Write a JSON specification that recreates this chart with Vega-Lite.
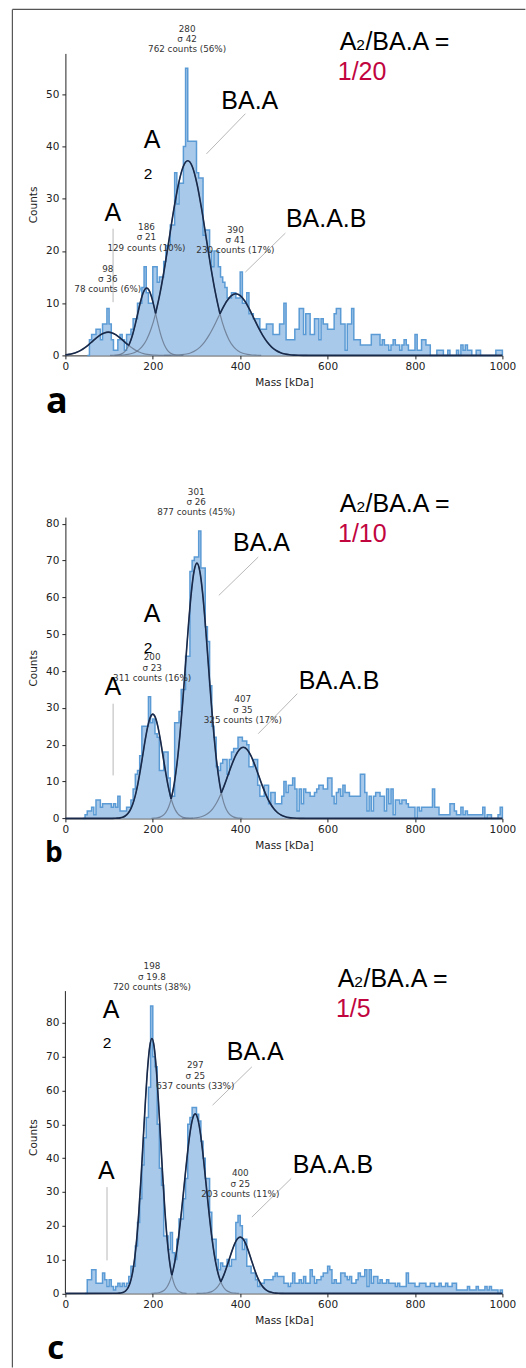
{
"$schema": "https://vega.github.io/schema/vega-lite/v6.json",
"padding": {"left": 11.4, "top": 8.4, "right": 0, "bottom": 0},
"background": "white",
"config": {
 "view": {"stroke": null},
 "axis": {"grid": false, "domainColor": "#222", "tickColor": "#222", "tickSize": 3.5, "domainWidth": 1, "tickWidth": 1, "labelFont": "DejaVu Sans", "labelFontSize": 10.5, "labelColor": "#222", "labelPadding": 3, "titleFont": "DejaVu Sans", "titleFontSize": 10.5, "titleFontWeight": "normal", "titleColor": "#222", "labelFlush": false, "labelOverlap": false, "titlePadding": 5},
 "axisY": {"titlePadding": 7}
},
"datasets": {
 "hist": [
  {"p":"a","m":50,"y":0},{"p":"a","m":55,"y":3},{"p":"a","m":60,"y":4},{"p":"a","m":65,"y":4},{"p":"a","m":70,"y":5},{"p":"a","m":75,"y":5},{"p":"a","m":80,"y":3},{"p":"a","m":85,"y":6},{"p":"a","m":90,"y":6},{"p":"a","m":95,"y":9},{"p":"a","m":100,"y":6},{"p":"a","m":105,"y":3},{"p":"a","m":110,"y":1},{"p":"a","m":115,"y":1},{"p":"a","m":120,"y":3},{"p":"a","m":125,"y":4},{"p":"a","m":130,"y":3},{"p":"a","m":135,"y":1},{"p":"a","m":140,"y":4},{"p":"a","m":145,"y":4},{"p":"a","m":150,"y":5},{"p":"a","m":155,"y":7},{"p":"a","m":160,"y":7},{"p":"a","m":165,"y":10},{"p":"a","m":170,"y":10},{"p":"a","m":175,"y":13},{"p":"a","m":180,"y":17},{"p":"a","m":185,"y":12},{"p":"a","m":190,"y":10},{"p":"a","m":195,"y":10},{"p":"a","m":200,"y":17},{"p":"a","m":205,"y":17},{"p":"a","m":210,"y":14},{"p":"a","m":215,"y":15},{"p":"a","m":220,"y":15},{"p":"a","m":225,"y":18},{"p":"a","m":230,"y":21},{"p":"a","m":235,"y":21},{"p":"a","m":240,"y":25},{"p":"a","m":245,"y":25},{"p":"a","m":250,"y":35},{"p":"a","m":255,"y":29},{"p":"a","m":260,"y":33},{"p":"a","m":265,"y":33},{"p":"a","m":270,"y":40},{"p":"a","m":275,"y":55},{"p":"a","m":280,"y":41},{"p":"a","m":285,"y":41},{"p":"a","m":290,"y":41},{"p":"a","m":295,"y":41},{"p":"a","m":300,"y":35},{"p":"a","m":305,"y":34},{"p":"a","m":310,"y":34},{"p":"a","m":315,"y":23},{"p":"a","m":320,"y":24},{"p":"a","m":325,"y":24},{"p":"a","m":330,"y":20},{"p":"a","m":335,"y":17},{"p":"a","m":340,"y":20},{"p":"a","m":345,"y":20},{"p":"a","m":350,"y":17},{"p":"a","m":355,"y":15},{"p":"a","m":360,"y":14},{"p":"a","m":365,"y":13},{"p":"a","m":370,"y":11},{"p":"a","m":375,"y":11},{"p":"a","m":380,"y":12},{"p":"a","m":385,"y":12},{"p":"a","m":390,"y":11},{"p":"a","m":395,"y":11},{"p":"a","m":400,"y":16},{"p":"a","m":405,"y":10},{"p":"a","m":410,"y":10},{"p":"a","m":415,"y":12},{"p":"a","m":420,"y":8},{"p":"a","m":425,"y":8},{"p":"a","m":430,"y":7},{"p":"a","m":435,"y":7},{"p":"a","m":440,"y":7},{"p":"a","m":445,"y":5},{"p":"a","m":450,"y":5},{"p":"a","m":455,"y":5},{"p":"a","m":460,"y":6},{"p":"a","m":465,"y":6},{"p":"a","m":470,"y":6},{"p":"a","m":475,"y":4},{"p":"a","m":480,"y":4},{"p":"a","m":485,"y":4},{"p":"a","m":490,"y":6},{"p":"a","m":495,"y":6},
  {"p":"a","m":500,"y":10},{"p":"a","m":505,"y":3},{"p":"a","m":510,"y":3},{"p":"a","m":515,"y":3},{"p":"a","m":520,"y":3},{"p":"a","m":525,"y":5},{"p":"a","m":530,"y":5},{"p":"a","m":535,"y":9},{"p":"a","m":540,"y":9},{"p":"a","m":545,"y":4},{"p":"a","m":550,"y":8},{"p":"a","m":555,"y":8},{"p":"a","m":560,"y":4},{"p":"a","m":565,"y":4},{"p":"a","m":570,"y":7},{"p":"a","m":575,"y":7},{"p":"a","m":580,"y":3},{"p":"a","m":585,"y":7},{"p":"a","m":590,"y":6},{"p":"a","m":595,"y":6},{"p":"a","m":600,"y":5},{"p":"a","m":605,"y":5},{"p":"a","m":610,"y":5},{"p":"a","m":615,"y":8},{"p":"a","m":620,"y":9},{"p":"a","m":625,"y":9},{"p":"a","m":630,"y":6},{"p":"a","m":635,"y":6},{"p":"a","m":640,"y":1},{"p":"a","m":645,"y":6},{"p":"a","m":650,"y":6},{"p":"a","m":655,"y":9},{"p":"a","m":660,"y":3},{"p":"a","m":665,"y":3},{"p":"a","m":670,"y":3},{"p":"a","m":675,"y":2},{"p":"a","m":680,"y":2},{"p":"a","m":685,"y":2},{"p":"a","m":690,"y":2},{"p":"a","m":695,"y":2},{"p":"a","m":700,"y":4},{"p":"a","m":705,"y":4},{"p":"a","m":710,"y":4},{"p":"a","m":715,"y":4},{"p":"a","m":720,"y":2},{"p":"a","m":725,"y":3},{"p":"a","m":730,"y":2},{"p":"a","m":735,"y":2},{"p":"a","m":740,"y":1},{"p":"a","m":745,"y":2},{"p":"a","m":750,"y":3},{"p":"a","m":755,"y":2},{"p":"a","m":760,"y":2},{"p":"a","m":765,"y":1},{"p":"a","m":770,"y":2},{"p":"a","m":775,"y":3},{"p":"a","m":780,"y":2},{"p":"a","m":785,"y":1},{"p":"a","m":790,"y":1},{"p":"a","m":795,"y":1},{"p":"a","m":800,"y":4},{"p":"a","m":805,"y":1},{"p":"a","m":810,"y":1},{"p":"a","m":815,"y":3},{"p":"a","m":820,"y":3},{"p":"a","m":825,"y":2},{"p":"a","m":830,"y":2},{"p":"a","m":835,"y":0},{"p":"a","m":840,"y":0},{"p":"a","m":845,"y":0},{"p":"a","m":850,"y":1},{"p":"a","m":855,"y":1},{"p":"a","m":860,"y":1},{"p":"a","m":865,"y":0},{"p":"a","m":870,"y":0},{"p":"a","m":875,"y":1},{"p":"a","m":880,"y":0},{"p":"a","m":885,"y":0},{"p":"a","m":890,"y":0},{"p":"a","m":895,"y":1},{"p":"a","m":900,"y":0},{"p":"a","m":905,"y":2},{"p":"a","m":910,"y":1},{"p":"a","m":915,"y":2},{"p":"a","m":920,"y":1},{"p":"a","m":925,"y":1},{"p":"a","m":930,"y":0},{"p":"a","m":935,"y":0},{"p":"a","m":940,"y":1},{"p":"a","m":945,"y":1},{"p":"a","m":950,"y":0},{"p":"a","m":955,"y":0},{"p":"a","m":960,"y":0},{"p":"a","m":965,"y":0},{"p":"a","m":970,"y":0},{"p":"a","m":975,"y":0},{"p":"a","m":980,"y":0},{"p":"a","m":985,"y":1},{"p":"a","m":990,"y":1},{"p":"a","m":995,"y":1},{"p":"a","m":1000,"y":0},
  {"p":"b","m":40,"y":0},{"p":"b","m":45,"y":1},{"p":"b","m":50,"y":2},{"p":"b","m":55,"y":2},{"p":"b","m":60,"y":3},{"p":"b","m":65,"y":1},{"p":"b","m":70,"y":5},{"p":"b","m":75,"y":5},{"p":"b","m":80,"y":3},{"p":"b","m":85,"y":4},{"p":"b","m":90,"y":4},{"p":"b","m":95,"y":4},{"p":"b","m":100,"y":4},{"p":"b","m":105,"y":3},{"p":"b","m":110,"y":4},{"p":"b","m":115,"y":3},{"p":"b","m":120,"y":6},{"p":"b","m":125,"y":2},{"p":"b","m":130,"y":2},{"p":"b","m":135,"y":2},{"p":"b","m":140,"y":3},{"p":"b","m":145,"y":3},{"p":"b","m":150,"y":5},{"p":"b","m":155,"y":8},{"p":"b","m":160,"y":12},{"p":"b","m":165,"y":13},{"p":"b","m":170,"y":17},{"p":"b","m":175,"y":25},{"p":"b","m":180,"y":25},{"p":"b","m":185,"y":25},{"p":"b","m":190,"y":33},{"p":"b","m":195,"y":26},{"p":"b","m":200,"y":27},{"p":"b","m":205,"y":23},{"p":"b","m":210,"y":22},{"p":"b","m":215,"y":13},{"p":"b","m":220,"y":13},{"p":"b","m":225,"y":18},{"p":"b","m":230,"y":18},{"p":"b","m":235,"y":11},{"p":"b","m":240,"y":6},{"p":"b","m":245,"y":6},{"p":"b","m":250,"y":26},{"p":"b","m":255,"y":26},{"p":"b","m":260,"y":29},{"p":"b","m":265,"y":35},{"p":"b","m":270,"y":35},{"p":"b","m":275,"y":44},{"p":"b","m":280,"y":44},{"p":"b","m":285,"y":67},{"p":"b","m":290,"y":70},{"p":"b","m":295,"y":71},{"p":"b","m":300,"y":71},{"p":"b","m":305,"y":78},{"p":"b","m":310,"y":68},{"p":"b","m":315,"y":68},{"p":"b","m":320,"y":52},{"p":"b","m":325,"y":48},{"p":"b","m":330,"y":36},{"p":"b","m":335,"y":25},{"p":"b","m":340,"y":22},{"p":"b","m":345,"y":14},{"p":"b","m":350,"y":13},{"p":"b","m":355,"y":15},{"p":"b","m":360,"y":16},{"p":"b","m":365,"y":16},{"p":"b","m":370,"y":12},{"p":"b","m":375,"y":16},{"p":"b","m":380,"y":18},{"p":"b","m":385,"y":19},{"p":"b","m":390,"y":19},{"p":"b","m":395,"y":22},{"p":"b","m":400,"y":22},{"p":"b","m":405,"y":21},{"p":"b","m":410,"y":21},{"p":"b","m":415,"y":20},{"p":"b","m":420,"y":14},{"p":"b","m":425,"y":14},{"p":"b","m":430,"y":16},{"p":"b","m":435,"y":16},{"p":"b","m":440,"y":9},{"p":"b","m":445,"y":6},{"p":"b","m":450,"y":6},{"p":"b","m":455,"y":9},{"p":"b","m":460,"y":9},{"p":"b","m":465,"y":4},{"p":"b","m":470,"y":7},{"p":"b","m":475,"y":7},{"p":"b","m":480,"y":4},{"p":"b","m":485,"y":4},{"p":"b","m":490,"y":4},{"p":"b","m":495,"y":6},
  {"p":"b","m":500,"y":10},{"p":"b","m":505,"y":7},{"p":"b","m":510,"y":9},{"p":"b","m":515,"y":9},{"p":"b","m":520,"y":11},{"p":"b","m":525,"y":8},{"p":"b","m":530,"y":2},{"p":"b","m":535,"y":8},{"p":"b","m":540,"y":4},{"p":"b","m":545,"y":8},{"p":"b","m":550,"y":7},{"p":"b","m":555,"y":7},{"p":"b","m":560,"y":6},{"p":"b","m":565,"y":6},{"p":"b","m":570,"y":7},{"p":"b","m":575,"y":8},{"p":"b","m":580,"y":9},{"p":"b","m":585,"y":9},{"p":"b","m":590,"y":8},{"p":"b","m":595,"y":8},{"p":"b","m":600,"y":11},{"p":"b","m":605,"y":11},{"p":"b","m":610,"y":6},{"p":"b","m":615,"y":4},{"p":"b","m":620,"y":7},{"p":"b","m":625,"y":8},{"p":"b","m":630,"y":6},{"p":"b","m":635,"y":9},{"p":"b","m":640,"y":7},{"p":"b","m":645,"y":7},{"p":"b","m":650,"y":6},{"p":"b","m":655,"y":6},{"p":"b","m":660,"y":6},{"p":"b","m":665,"y":6},{"p":"b","m":670,"y":6},{"p":"b","m":675,"y":12},{"p":"b","m":680,"y":12},{"p":"b","m":685,"y":7},{"p":"b","m":690,"y":2},{"p":"b","m":695,"y":6},{"p":"b","m":700,"y":2},{"p":"b","m":705,"y":6},{"p":"b","m":710,"y":7},{"p":"b","m":715,"y":7},{"p":"b","m":720,"y":6},{"p":"b","m":725,"y":6},{"p":"b","m":730,"y":2},{"p":"b","m":735,"y":8},{"p":"b","m":740,"y":4},{"p":"b","m":745,"y":8},{"p":"b","m":750,"y":1},{"p":"b","m":755,"y":5},{"p":"b","m":760,"y":5},{"p":"b","m":765,"y":4},{"p":"b","m":770,"y":5},{"p":"b","m":775,"y":5},{"p":"b","m":780,"y":4},{"p":"b","m":785,"y":3},{"p":"b","m":790,"y":3},{"p":"b","m":795,"y":3},{"p":"b","m":800,"y":0},{"p":"b","m":805,"y":3},{"p":"b","m":810,"y":2},{"p":"b","m":815,"y":3},{"p":"b","m":820,"y":3},{"p":"b","m":825,"y":3},{"p":"b","m":830,"y":3},{"p":"b","m":835,"y":3},{"p":"b","m":840,"y":8},{"p":"b","m":845,"y":3},{"p":"b","m":850,"y":3},{"p":"b","m":855,"y":1},{"p":"b","m":860,"y":1},{"p":"b","m":865,"y":1},{"p":"b","m":870,"y":1},{"p":"b","m":875,"y":1},{"p":"b","m":880,"y":4},{"p":"b","m":885,"y":4},{"p":"b","m":890,"y":2},{"p":"b","m":895,"y":1},{"p":"b","m":900,"y":1},{"p":"b","m":905,"y":3},{"p":"b","m":910,"y":1},{"p":"b","m":915,"y":2},{"p":"b","m":920,"y":1},{"p":"b","m":925,"y":1},{"p":"b","m":930,"y":1},{"p":"b","m":935,"y":1},{"p":"b","m":940,"y":1},{"p":"b","m":945,"y":1},{"p":"b","m":950,"y":1},{"p":"b","m":955,"y":3},{"p":"b","m":960,"y":0},{"p":"b","m":965,"y":1},{"p":"b","m":970,"y":1},{"p":"b","m":975,"y":0},{"p":"b","m":980,"y":0},{"p":"b","m":985,"y":0},{"p":"b","m":990,"y":1},{"p":"b","m":995,"y":3},{"p":"b","m":1000,"y":0},
  {"p":"c","m":45,"y":0},{"p":"c","m":50,"y":4},{"p":"c","m":55,"y":4},{"p":"c","m":60,"y":7},{"p":"c","m":65,"y":7},{"p":"c","m":70,"y":3},{"p":"c","m":75,"y":3},{"p":"c","m":80,"y":3},{"p":"c","m":85,"y":6},{"p":"c","m":90,"y":4},{"p":"c","m":95,"y":2},{"p":"c","m":100,"y":4},{"p":"c","m":105,"y":2},{"p":"c","m":110,"y":1},{"p":"c","m":115,"y":2},{"p":"c","m":120,"y":3},{"p":"c","m":125,"y":2},{"p":"c","m":130,"y":3},{"p":"c","m":135,"y":2},{"p":"c","m":140,"y":3},{"p":"c","m":145,"y":5},{"p":"c","m":150,"y":8},{"p":"c","m":155,"y":8},{"p":"c","m":160,"y":14},{"p":"c","m":165,"y":21},{"p":"c","m":170,"y":28},{"p":"c","m":175,"y":38},{"p":"c","m":180,"y":46},{"p":"c","m":185,"y":52},{"p":"c","m":190,"y":61},{"p":"c","m":195,"y":85},{"p":"c","m":200,"y":70},{"p":"c","m":205,"y":67},{"p":"c","m":210,"y":50},{"p":"c","m":215,"y":37},{"p":"c","m":220,"y":32},{"p":"c","m":225,"y":17},{"p":"c","m":230,"y":17},{"p":"c","m":235,"y":13},{"p":"c","m":240,"y":18},{"p":"c","m":245,"y":12},{"p":"c","m":250,"y":10},{"p":"c","m":255,"y":16},{"p":"c","m":260,"y":22},{"p":"c","m":265,"y":22},{"p":"c","m":270,"y":28},{"p":"c","m":275,"y":34},{"p":"c","m":280,"y":50},{"p":"c","m":285,"y":52},{"p":"c","m":290,"y":55},{"p":"c","m":295,"y":55},{"p":"c","m":300,"y":53},{"p":"c","m":305,"y":51},{"p":"c","m":310,"y":45},{"p":"c","m":315,"y":40},{"p":"c","m":320,"y":34},{"p":"c","m":325,"y":34},{"p":"c","m":330,"y":24},{"p":"c","m":335,"y":16},{"p":"c","m":340,"y":16},{"p":"c","m":345,"y":10},{"p":"c","m":350,"y":7},{"p":"c","m":355,"y":9},{"p":"c","m":360,"y":8},{"p":"c","m":365,"y":8},{"p":"c","m":370,"y":10},{"p":"c","m":375,"y":8},{"p":"c","m":380,"y":10},{"p":"c","m":385,"y":10},{"p":"c","m":390,"y":21},{"p":"c","m":395,"y":23},{"p":"c","m":400,"y":20},{"p":"c","m":405,"y":13},{"p":"c","m":410,"y":16},{"p":"c","m":415,"y":8},{"p":"c","m":420,"y":8},{"p":"c","m":425,"y":6},{"p":"c","m":430,"y":6},{"p":"c","m":435,"y":4},{"p":"c","m":440,"y":2},{"p":"c","m":445,"y":3},{"p":"c","m":450,"y":3},{"p":"c","m":455,"y":4},{"p":"c","m":460,"y":4},{"p":"c","m":465,"y":4},{"p":"c","m":470,"y":4},{"p":"c","m":475,"y":5},{"p":"c","m":480,"y":6},{"p":"c","m":485,"y":5},{"p":"c","m":490,"y":5},{"p":"c","m":495,"y":5},
  {"p":"c","m":500,"y":3},{"p":"c","m":505,"y":3},{"p":"c","m":510,"y":2},{"p":"c","m":515,"y":3},{"p":"c","m":520,"y":6},{"p":"c","m":525,"y":3},{"p":"c","m":530,"y":3},{"p":"c","m":535,"y":4},{"p":"c","m":540,"y":3},{"p":"c","m":545,"y":5},{"p":"c","m":550,"y":3},{"p":"c","m":555,"y":3},{"p":"c","m":560,"y":7},{"p":"c","m":565,"y":5},{"p":"c","m":570,"y":3},{"p":"c","m":575,"y":4},{"p":"c","m":580,"y":4},{"p":"c","m":585,"y":5},{"p":"c","m":590,"y":6},{"p":"c","m":595,"y":6},{"p":"c","m":600,"y":8},{"p":"c","m":605,"y":7},{"p":"c","m":610,"y":3},{"p":"c","m":615,"y":4},{"p":"c","m":620,"y":3},{"p":"c","m":625,"y":3},{"p":"c","m":630,"y":6},{"p":"c","m":635,"y":6},{"p":"c","m":640,"y":5},{"p":"c","m":645,"y":4},{"p":"c","m":650,"y":5},{"p":"c","m":655,"y":3},{"p":"c","m":660,"y":3},{"p":"c","m":665,"y":4},{"p":"c","m":670,"y":6},{"p":"c","m":675,"y":5},{"p":"c","m":680,"y":5},{"p":"c","m":685,"y":7},{"p":"c","m":690,"y":2},{"p":"c","m":695,"y":7},{"p":"c","m":700,"y":3},{"p":"c","m":705,"y":5},{"p":"c","m":710,"y":5},{"p":"c","m":715,"y":3},{"p":"c","m":720,"y":4},{"p":"c","m":725,"y":3},{"p":"c","m":730,"y":3},{"p":"c","m":735,"y":4},{"p":"c","m":740,"y":3},{"p":"c","m":745,"y":3},{"p":"c","m":750,"y":3},{"p":"c","m":755,"y":2},{"p":"c","m":760,"y":3},{"p":"c","m":765,"y":2},{"p":"c","m":770,"y":2},{"p":"c","m":775,"y":2},{"p":"c","m":780,"y":6},{"p":"c","m":785,"y":3},{"p":"c","m":790,"y":3},{"p":"c","m":795,"y":3},{"p":"c","m":800,"y":2},{"p":"c","m":805,"y":2},{"p":"c","m":810,"y":3},{"p":"c","m":815,"y":3},{"p":"c","m":820,"y":3},{"p":"c","m":825,"y":2},{"p":"c","m":830,"y":2},{"p":"c","m":835,"y":3},{"p":"c","m":840,"y":3},{"p":"c","m":845,"y":2},{"p":"c","m":850,"y":2},{"p":"c","m":855,"y":3},{"p":"c","m":860,"y":2},{"p":"c","m":865,"y":2},{"p":"c","m":870,"y":3},{"p":"c","m":875,"y":2},{"p":"c","m":880,"y":2},{"p":"c","m":885,"y":3},{"p":"c","m":890,"y":3},{"p":"c","m":895,"y":1},{"p":"c","m":900,"y":1},{"p":"c","m":905,"y":1},{"p":"c","m":910,"y":1},{"p":"c","m":915,"y":1},{"p":"c","m":920,"y":2},{"p":"c","m":925,"y":1},{"p":"c","m":930,"y":1},{"p":"c","m":935,"y":1},{"p":"c","m":940,"y":2},{"p":"c","m":945,"y":1},{"p":"c","m":950,"y":1},{"p":"c","m":955,"y":1},{"p":"c","m":960,"y":2},{"p":"c","m":965,"y":1},{"p":"c","m":970,"y":2},{"p":"c","m":975,"y":1},{"p":"c","m":980,"y":1},{"p":"c","m":985,"y":1},{"p":"c","m":990,"y":0},{"p":"c","m":995,"y":1},{"p":"c","m":1000,"y":0}
 ],
 "comp": [
  {"p":"a","k":"1","m":0,"y":0.109},{"p":"a","k":"1","m":8,"y":0.196},{"p":"a","k":"1","m":17,"y":0.354},{"p":"a","k":"1","m":26,"y":0.602},{"p":"a","k":"1","m":35,"y":0.962},{"p":"a","k":"1","m":44,"y":1.445},{"p":"a","k":"1","m":53,"y":2.037},{"p":"a","k":"1","m":62,"y":2.699},{"p":"a","k":"1","m":71,"y":3.359},{"p":"a","k":"1","m":80,"y":3.927},{"p":"a","k":"1","m":89,"y":4.313},{"p":"a","k":"1","m":98,"y":4.45},{"p":"a","k":"1","m":107,"y":4.313},{"p":"a","k":"1","m":116,"y":3.927},{"p":"a","k":"1","m":125,"y":3.359},{"p":"a","k":"1","m":134,"y":2.699},{"p":"a","k":"1","m":143,"y":2.037},{"p":"a","k":"1","m":152,"y":1.445},{"p":"a","k":"1","m":161,"y":0.962},{"p":"a","k":"1","m":170,"y":0.602},{"p":"a","k":"1","m":179,"y":0.354},{"p":"a","k":"1","m":188,"y":0.196},{"p":"a","k":"1","m":197,"y":0.101},{"p":"a","k":"1","m":206,"y":0.049},{"p":"a","k":"1","m":215,"y":0.023},{"p":"a","k":"1","m":224,"y":0.01},{"p":"a","k":"1","m":233,"y":0.004},{"p":"a","k":"1","m":242,"y":0.002},
  {"p":"a","k":"2","m":102,"y":0.004},{"p":"a","k":"2","m":107.25,"y":0.011},{"p":"a","k":"2","m":112.5,"y":0.028},{"p":"a","k":"2","m":117.75,"y":0.066},{"p":"a","k":"2","m":123,"y":0.143},{"p":"a","k":"2","m":128.25,"y":0.294},{"p":"a","k":"2","m":133.5,"y":0.567},{"p":"a","k":"2","m":138.75,"y":1.026},{"p":"a","k":"2","m":144,"y":1.746},{"p":"a","k":"2","m":149.25,"y":2.79},{"p":"a","k":"2","m":154.5,"y":4.188},{"p":"a","k":"2","m":159.75,"y":5.906},{"p":"a","k":"2","m":165,"y":7.824},{"p":"a","k":"2","m":170.25,"y":9.737},{"p":"a","k":"2","m":175.5,"y":11.384},{"p":"a","k":"2","m":180.75,"y":12.503},{"p":"a","k":"2","m":186,"y":12.9},{"p":"a","k":"2","m":191.25,"y":12.503},{"p":"a","k":"2","m":196.5,"y":11.384},{"p":"a","k":"2","m":201.75,"y":9.737},{"p":"a","k":"2","m":207,"y":7.824},{"p":"a","k":"2","m":212.25,"y":5.906},{"p":"a","k":"2","m":217.5,"y":4.188},{"p":"a","k":"2","m":222.75,"y":2.79},{"p":"a","k":"2","m":228,"y":1.746},{"p":"a","k":"2","m":233.25,"y":1.026},{"p":"a","k":"2","m":238.5,"y":0.567},{"p":"a","k":"2","m":243.75,"y":0.294},{"p":"a","k":"2","m":249,"y":0.143},{"p":"a","k":"2","m":254.25,"y":0.066},{"p":"a","k":"2","m":259.5,"y":0.028},{"p":"a","k":"2","m":264.75,"y":0.011},{"p":"a","k":"2","m":270,"y":0.004},
  {"p":"a","k":"3","m":112,"y":0.012},{"p":"a","k":"3","m":122.5,"y":0.033},{"p":"a","k":"3","m":133,"y":0.082},{"p":"a","k":"3","m":143.5,"y":0.19},{"p":"a","k":"3","m":154,"y":0.414},{"p":"a","k":"3","m":164.5,"y":0.85},{"p":"a","k":"3","m":175,"y":1.639},{"p":"a","k":"3","m":185.5,"y":2.968},{"p":"a","k":"3","m":196,"y":5.048},{"p":"a","k":"3","m":206.5,"y":8.067},{"p":"a","k":"3","m":217,"y":12.109},{"p":"a","k":"3","m":227.5,"y":17.077},{"p":"a","k":"3","m":238,"y":22.624},{"p":"a","k":"3","m":248.5,"y":28.156},{"p":"a","k":"3","m":259,"y":32.917},{"p":"a","k":"3","m":269.5,"y":36.152},{"p":"a","k":"3","m":280,"y":37.3},{"p":"a","k":"3","m":290.5,"y":36.152},{"p":"a","k":"3","m":301,"y":32.917},{"p":"a","k":"3","m":311.5,"y":28.156},{"p":"a","k":"3","m":322,"y":22.624},{"p":"a","k":"3","m":332.5,"y":17.077},{"p":"a","k":"3","m":343,"y":12.109},{"p":"a","k":"3","m":353.5,"y":8.067},{"p":"a","k":"3","m":364,"y":5.048},{"p":"a","k":"3","m":374.5,"y":2.968},{"p":"a","k":"3","m":385,"y":1.639},{"p":"a","k":"3","m":395.5,"y":0.85},{"p":"a","k":"3","m":406,"y":0.414},{"p":"a","k":"3","m":416.5,"y":0.19},{"p":"a","k":"3","m":427,"y":0.082},{"p":"a","k":"3","m":437.5,"y":0.033},{"p":"a","k":"3","m":448,"y":0.012},
  {"p":"a","k":"4","m":226,"y":0.004},{"p":"a","k":"4","m":236.25,"y":0.01},{"p":"a","k":"4","m":246.5,"y":0.026},{"p":"a","k":"4","m":256.75,"y":0.06},{"p":"a","k":"4","m":267,"y":0.131},{"p":"a","k":"4","m":277.25,"y":0.269},{"p":"a","k":"4","m":287.5,"y":0.518},{"p":"a","k":"4","m":297.75,"y":0.939},{"p":"a","k":"4","m":308,"y":1.597},{"p":"a","k":"4","m":318.25,"y":2.552},{"p":"a","k":"4","m":328.5,"y":3.831},{"p":"a","k":"4","m":338.75,"y":5.402},{"p":"a","k":"4","m":349,"y":7.157},{"p":"a","k":"4","m":359.25,"y":8.907},{"p":"a","k":"4","m":369.5,"y":10.414},{"p":"a","k":"4","m":379.75,"y":11.437},{"p":"a","k":"4","m":390,"y":11.8},{"p":"a","k":"4","m":400.25,"y":11.437},{"p":"a","k":"4","m":410.5,"y":10.414},{"p":"a","k":"4","m":420.75,"y":8.907},{"p":"a","k":"4","m":431,"y":7.157},{"p":"a","k":"4","m":441.25,"y":5.402},{"p":"a","k":"4","m":451.5,"y":3.831},{"p":"a","k":"4","m":461.75,"y":2.552},{"p":"a","k":"4","m":472,"y":1.597},{"p":"a","k":"4","m":482.25,"y":0.939},{"p":"a","k":"4","m":492.5,"y":0.518},{"p":"a","k":"4","m":502.75,"y":0.269},{"p":"a","k":"4","m":513,"y":0.131},{"p":"a","k":"4","m":523.25,"y":0.06},{"p":"a","k":"4","m":533.5,"y":0.026},{"p":"a","k":"4","m":543.75,"y":0.01},{"p":"a","k":"4","m":554,"y":0.004},
  {"p":"b","k":"1","m":108,"y":0.009},{"p":"b","k":"1","m":113.75,"y":0.025},{"p":"b","k":"1","m":119.5,"y":0.062},{"p":"b","k":"1","m":125.25,"y":0.144},{"p":"b","k":"1","m":131,"y":0.314},{"p":"b","k":"1","m":136.75,"y":0.645},{"p":"b","k":"1","m":142.5,"y":1.244},{"p":"b","k":"1","m":148.25,"y":2.252},{"p":"b","k":"1","m":154,"y":3.83},{"p":"b","k":"1","m":159.75,"y":6.12},{"p":"b","k":"1","m":165.5,"y":9.188},{"p":"b","k":"1","m":171.25,"y":12.957},{"p":"b","k":"1","m":177,"y":17.165},{"p":"b","k":"1","m":182.75,"y":21.362},{"p":"b","k":"1","m":188.5,"y":24.975},{"p":"b","k":"1","m":194.25,"y":27.429},{"p":"b","k":"1","m":200,"y":28.3},{"p":"b","k":"1","m":205.75,"y":27.429},{"p":"b","k":"1","m":211.5,"y":24.975},{"p":"b","k":"1","m":217.25,"y":21.362},{"p":"b","k":"1","m":223,"y":17.165},{"p":"b","k":"1","m":228.75,"y":12.957},{"p":"b","k":"1","m":234.5,"y":9.188},{"p":"b","k":"1","m":240.25,"y":6.12},{"p":"b","k":"1","m":246,"y":3.83},{"p":"b","k":"1","m":251.75,"y":2.252},{"p":"b","k":"1","m":257.5,"y":1.244},{"p":"b","k":"1","m":263.25,"y":0.645},{"p":"b","k":"1","m":269,"y":0.314},{"p":"b","k":"1","m":274.75,"y":0.144},{"p":"b","k":"1","m":280.5,"y":0.062},{"p":"b","k":"1","m":286.25,"y":0.025},{"p":"b","k":"1","m":292,"y":0.009},
  {"p":"b","k":"2","m":197,"y":0.023},{"p":"b","k":"2","m":203.5,"y":0.061},{"p":"b","k":"2","m":210,"y":0.152},{"p":"b","k":"2","m":216.5,"y":0.352},{"p":"b","k":"2","m":223,"y":0.77},{"p":"b","k":"2","m":229.5,"y":1.579},{"p":"b","k":"2","m":236,"y":3.045},{"p":"b","k":"2","m":242.5,"y":5.514},{"p":"b","k":"2","m":249,"y":9.379},{"p":"b","k":"2","m":255.5,"y":14.988},{"p":"b","k":"2","m":262,"y":22.498},{"p":"b","k":"2","m":268.5,"y":31.728},{"p":"b","k":"2","m":275,"y":42.033},{"p":"b","k":"2","m":281.5,"y":52.31},{"p":"b","k":"2","m":288,"y":61.157},{"p":"b","k":"2","m":294.5,"y":67.168},{"p":"b","k":"2","m":301,"y":69.3},{"p":"b","k":"2","m":307.5,"y":67.168},{"p":"b","k":"2","m":314,"y":61.157},{"p":"b","k":"2","m":320.5,"y":52.31},{"p":"b","k":"2","m":327,"y":42.033},{"p":"b","k":"2","m":333.5,"y":31.728},{"p":"b","k":"2","m":340,"y":22.498},{"p":"b","k":"2","m":346.5,"y":14.988},{"p":"b","k":"2","m":353,"y":9.379},{"p":"b","k":"2","m":359.5,"y":5.514},{"p":"b","k":"2","m":366,"y":3.045},{"p":"b","k":"2","m":372.5,"y":1.579},{"p":"b","k":"2","m":379,"y":0.77},{"p":"b","k":"2","m":385.5,"y":0.352},{"p":"b","k":"2","m":392,"y":0.152},{"p":"b","k":"2","m":398.5,"y":0.061},{"p":"b","k":"2","m":405,"y":0.023},
  {"p":"b","k":"3","m":267,"y":0.006},{"p":"b","k":"3","m":275.75,"y":0.017},{"p":"b","k":"3","m":284.5,"y":0.042},{"p":"b","k":"3","m":293.25,"y":0.098},{"p":"b","k":"3","m":302,"y":0.214},{"p":"b","k":"3","m":310.75,"y":0.44},{"p":"b","k":"3","m":319.5,"y":0.848},{"p":"b","k":"3","m":328.25,"y":1.536},{"p":"b","k":"3","m":337,"y":2.612},{"p":"b","k":"3","m":345.75,"y":4.174},{"p":"b","k":"3","m":354.5,"y":6.266},{"p":"b","k":"3","m":363.25,"y":8.836},{"p":"b","k":"3","m":372,"y":11.706},{"p":"b","k":"3","m":380.75,"y":14.568},{"p":"b","k":"3","m":389.5,"y":17.032},{"p":"b","k":"3","m":398.25,"y":18.706},{"p":"b","k":"3","m":407,"y":19.3},{"p":"b","k":"3","m":415.75,"y":18.706},{"p":"b","k":"3","m":424.5,"y":17.032},{"p":"b","k":"3","m":433.25,"y":14.568},{"p":"b","k":"3","m":442,"y":11.706},{"p":"b","k":"3","m":450.75,"y":8.836},{"p":"b","k":"3","m":459.5,"y":6.266},{"p":"b","k":"3","m":468.25,"y":4.174},{"p":"b","k":"3","m":477,"y":2.612},{"p":"b","k":"3","m":485.75,"y":1.536},{"p":"b","k":"3","m":494.5,"y":0.848},{"p":"b","k":"3","m":503.25,"y":0.44},{"p":"b","k":"3","m":512,"y":0.214},{"p":"b","k":"3","m":520.75,"y":0.098},{"p":"b","k":"3","m":529.5,"y":0.042},{"p":"b","k":"3","m":538.25,"y":0.017},{"p":"b","k":"3","m":547,"y":0.006},
  {"p":"c","k":"1","m":118.8,"y":0.025},{"p":"c","k":"1","m":123.75,"y":0.067},{"p":"c","k":"1","m":128.7,"y":0.165},{"p":"c","k":"1","m":133.65,"y":0.383},{"p":"c","k":"1","m":138.6,"y":0.838},{"p":"c","k":"1","m":143.55,"y":1.718},{"p":"c","k":"1","m":148.5,"y":3.313},{"p":"c","k":"1","m":153.45,"y":5.999},{"p":"c","k":"1","m":158.4,"y":10.205},{"p":"c","k":"1","m":163.35,"y":16.307},{"p":"c","k":"1","m":168.3,"y":24.479},{"p":"c","k":"1","m":173.25,"y":34.52},{"p":"c","k":"1","m":178.2,"y":45.732},{"p":"c","k":"1","m":183.15,"y":56.915},{"p":"c","k":"1","m":188.1,"y":66.541},{"p":"c","k":"1","m":193.05,"y":73.08},{"p":"c","k":"1","m":198,"y":75.4},{"p":"c","k":"1","m":202.95,"y":73.08},{"p":"c","k":"1","m":207.9,"y":66.541},{"p":"c","k":"1","m":212.85,"y":56.915},{"p":"c","k":"1","m":217.8,"y":45.732},{"p":"c","k":"1","m":222.75,"y":34.52},{"p":"c","k":"1","m":227.7,"y":24.479},{"p":"c","k":"1","m":232.65,"y":16.307},{"p":"c","k":"1","m":237.6,"y":10.205},{"p":"c","k":"1","m":242.55,"y":5.999},{"p":"c","k":"1","m":247.5,"y":3.313},{"p":"c","k":"1","m":252.45,"y":1.718},{"p":"c","k":"1","m":257.4,"y":0.838},{"p":"c","k":"1","m":262.35,"y":0.383},{"p":"c","k":"1","m":267.3,"y":0.165},{"p":"c","k":"1","m":272.25,"y":0.067},{"p":"c","k":"1","m":277.2,"y":0.025},
  {"p":"c","k":"2","m":197,"y":0.018},{"p":"c","k":"2","m":203.25,"y":0.047},{"p":"c","k":"2","m":209.5,"y":0.116},{"p":"c","k":"2","m":215.75,"y":0.27},{"p":"c","k":"2","m":222,"y":0.59},{"p":"c","k":"2","m":228.25,"y":1.21},{"p":"c","k":"2","m":234.5,"y":2.333},{"p":"c","k":"2","m":240.75,"y":4.225},{"p":"c","k":"2","m":247,"y":7.187},{"p":"c","k":"2","m":253.25,"y":11.484},{"p":"c","k":"2","m":259.5,"y":17.239},{"p":"c","k":"2","m":265.75,"y":24.311},{"p":"c","k":"2","m":272,"y":32.207},{"p":"c","k":"2","m":278.25,"y":40.082},{"p":"c","k":"2","m":284.5,"y":46.861},{"p":"c","k":"2","m":290.75,"y":51.466},{"p":"c","k":"2","m":297,"y":53.1},{"p":"c","k":"2","m":303.25,"y":51.466},{"p":"c","k":"2","m":309.5,"y":46.861},{"p":"c","k":"2","m":315.75,"y":40.082},{"p":"c","k":"2","m":322,"y":32.207},{"p":"c","k":"2","m":328.25,"y":24.311},{"p":"c","k":"2","m":334.5,"y":17.239},{"p":"c","k":"2","m":340.75,"y":11.484},{"p":"c","k":"2","m":347,"y":7.187},{"p":"c","k":"2","m":353.25,"y":4.225},{"p":"c","k":"2","m":359.5,"y":2.333},{"p":"c","k":"2","m":365.75,"y":1.21},{"p":"c","k":"2","m":372,"y":0.59},{"p":"c","k":"2","m":378.25,"y":0.27},{"p":"c","k":"2","m":384.5,"y":0.116},{"p":"c","k":"2","m":390.75,"y":0.047},{"p":"c","k":"2","m":397,"y":0.018},
  {"p":"c","k":"3","m":300,"y":0.006},{"p":"c","k":"3","m":306.25,"y":0.015},{"p":"c","k":"3","m":312.5,"y":0.036},{"p":"c","k":"3","m":318.75,"y":0.085},{"p":"c","k":"3","m":325,"y":0.185},{"p":"c","k":"3","m":331.25,"y":0.379},{"p":"c","k":"3","m":337.5,"y":0.732},{"p":"c","k":"3","m":343.75,"y":1.325},{"p":"c","k":"3","m":350,"y":2.253},{"p":"c","k":"3","m":356.25,"y":3.601},{"p":"c","k":"3","m":362.5,"y":5.405},{"p":"c","k":"3","m":368.75,"y":7.623},{"p":"c","k":"3","m":375,"y":10.099},{"p":"c","k":"3","m":381.25,"y":12.568},{"p":"c","k":"3","m":387.5,"y":14.694},{"p":"c","k":"3","m":393.75,"y":16.138},{"p":"c","k":"3","m":400,"y":16.65},{"p":"c","k":"3","m":406.25,"y":16.138},{"p":"c","k":"3","m":412.5,"y":14.694},{"p":"c","k":"3","m":418.75,"y":12.568},{"p":"c","k":"3","m":425,"y":10.099},{"p":"c","k":"3","m":431.25,"y":7.623},{"p":"c","k":"3","m":437.5,"y":5.405},{"p":"c","k":"3","m":443.75,"y":3.601},{"p":"c","k":"3","m":450,"y":2.253},{"p":"c","k":"3","m":456.25,"y":1.325},{"p":"c","k":"3","m":462.5,"y":0.732},{"p":"c","k":"3","m":468.75,"y":0.379},{"p":"c","k":"3","m":475,"y":0.185},{"p":"c","k":"3","m":481.25,"y":0.085},{"p":"c","k":"3","m":487.5,"y":0.036},{"p":"c","k":"3","m":493.75,"y":0.015},{"p":"c","k":"3","m":500,"y":0.006}
 ],
 "env": [
  {"p":"a","k":"1","m":0,"y":0.109},{"p":"a","k":"1","m":8,"y":0.196},{"p":"a","k":"1","m":17,"y":0.354},{"p":"a","k":"1","m":26,"y":0.602},{"p":"a","k":"1","m":35,"y":0.962},{"p":"a","k":"1","m":44,"y":1.445},{"p":"a","k":"1","m":53,"y":2.037},{"p":"a","k":"1","m":62,"y":2.699},{"p":"a","k":"1","m":71,"y":3.359},{"p":"a","k":"1","m":80,"y":3.927},{"p":"a","k":"1","m":89,"y":4.313},{"p":"a","k":"1","m":98,"y":4.45},{"p":"a","k":"1","m":107,"y":4.313},{"p":"a","k":"1","m":116,"y":3.927},{"p":"a","k":"1","m":125,"y":3.359},{"p":"a","k":"1","m":134,"y":2.699},{"p":"a","k":"1","m":143,"y":2.037},{"p":"a","k":"1","m":144.9,"y":1.9},
  {"p":"a","k":"2","m":144.9,"y":1.9},{"p":"a","k":"2","m":149.25,"y":2.79},{"p":"a","k":"2","m":154.5,"y":4.188},{"p":"a","k":"2","m":159.75,"y":5.906},{"p":"a","k":"2","m":165,"y":7.824},{"p":"a","k":"2","m":170.25,"y":9.737},{"p":"a","k":"2","m":175.5,"y":11.384},{"p":"a","k":"2","m":180.75,"y":12.503},{"p":"a","k":"2","m":186,"y":12.9},{"p":"a","k":"2","m":191.25,"y":12.503},{"p":"a","k":"2","m":196.5,"y":11.384},{"p":"a","k":"2","m":201.75,"y":9.737},{"p":"a","k":"2","m":206.4,"y":8.05},
  {"p":"a","k":"3","m":206.4,"y":8.05},{"p":"a","k":"3","m":217,"y":12.109},{"p":"a","k":"3","m":227.5,"y":17.077},{"p":"a","k":"3","m":238,"y":22.624},{"p":"a","k":"3","m":248.5,"y":28.156},{"p":"a","k":"3","m":259,"y":32.917},{"p":"a","k":"3","m":269.5,"y":36.152},{"p":"a","k":"3","m":280,"y":37.3},{"p":"a","k":"3","m":290.5,"y":36.152},{"p":"a","k":"3","m":301,"y":32.917},{"p":"a","k":"3","m":311.5,"y":28.156},{"p":"a","k":"3","m":322,"y":22.624},{"p":"a","k":"3","m":332.5,"y":17.077},{"p":"a","k":"3","m":343,"y":12.109},{"p":"a","k":"3","m":353.6,"y":7.97},
  {"p":"a","k":"4","m":353.6,"y":7.97},{"p":"a","k":"4","m":359.25,"y":8.907},{"p":"a","k":"4","m":369.5,"y":10.414},{"p":"a","k":"4","m":379.75,"y":11.437},{"p":"a","k":"4","m":390,"y":11.8},{"p":"a","k":"4","m":400.25,"y":11.437},{"p":"a","k":"4","m":410.5,"y":10.414},{"p":"a","k":"4","m":420.75,"y":8.907},{"p":"a","k":"4","m":431,"y":7.157},{"p":"a","k":"4","m":441.25,"y":5.402},{"p":"a","k":"4","m":451.5,"y":3.831},{"p":"a","k":"4","m":461.75,"y":2.552},{"p":"a","k":"4","m":472,"y":1.597},{"p":"a","k":"4","m":482.25,"y":0.939},{"p":"a","k":"4","m":492.5,"y":0.518},{"p":"a","k":"4","m":502.75,"y":0.269},{"p":"a","k":"4","m":513,"y":0.131},{"p":"a","k":"4","m":523.25,"y":0.06},{"p":"a","k":"4","m":533.5,"y":0.026},{"p":"a","k":"4","m":543.75,"y":0.01},{"p":"a","k":"4","m":554,"y":0.004},{"p":"a","k":"4","m":1000,"y":0},
  {"p":"b","k":"1","m":0,"y":0},{"p":"b","k":"1","m":108,"y":0.009},{"p":"b","k":"1","m":113.75,"y":0.025},{"p":"b","k":"1","m":119.5,"y":0.062},{"p":"b","k":"1","m":125.25,"y":0.144},{"p":"b","k":"1","m":131,"y":0.314},{"p":"b","k":"1","m":136.75,"y":0.645},{"p":"b","k":"1","m":142.5,"y":1.244},{"p":"b","k":"1","m":148.25,"y":2.252},{"p":"b","k":"1","m":154,"y":3.83},{"p":"b","k":"1","m":159.75,"y":6.12},{"p":"b","k":"1","m":165.5,"y":9.188},{"p":"b","k":"1","m":171.25,"y":12.957},{"p":"b","k":"1","m":177,"y":17.165},{"p":"b","k":"1","m":182.75,"y":21.362},{"p":"b","k":"1","m":188.5,"y":24.975},{"p":"b","k":"1","m":194.25,"y":27.429},{"p":"b","k":"1","m":200,"y":28.3},{"p":"b","k":"1","m":205.75,"y":27.429},{"p":"b","k":"1","m":211.5,"y":24.975},{"p":"b","k":"1","m":217.25,"y":21.362},{"p":"b","k":"1","m":223,"y":17.165},{"p":"b","k":"1","m":228.75,"y":12.957},{"p":"b","k":"1","m":234.5,"y":9.188},{"p":"b","k":"1","m":240.25,"y":6.12},{"p":"b","k":"1","m":242.05,"y":5.31},
  {"p":"b","k":"2","m":242.05,"y":5.31},{"p":"b","k":"2","m":249,"y":9.379},{"p":"b","k":"2","m":255.5,"y":14.988},{"p":"b","k":"2","m":262,"y":22.498},{"p":"b","k":"2","m":268.5,"y":31.728},{"p":"b","k":"2","m":275,"y":42.033},{"p":"b","k":"2","m":281.5,"y":52.31},{"p":"b","k":"2","m":288,"y":61.157},{"p":"b","k":"2","m":294.5,"y":67.168},{"p":"b","k":"2","m":301,"y":69.3},{"p":"b","k":"2","m":307.5,"y":67.168},{"p":"b","k":"2","m":314,"y":61.157},{"p":"b","k":"2","m":320.5,"y":52.31},{"p":"b","k":"2","m":327,"y":42.033},{"p":"b","k":"2","m":333.5,"y":31.728},{"p":"b","k":"2","m":340,"y":22.498},{"p":"b","k":"2","m":346.5,"y":14.988},{"p":"b","k":"2","m":353,"y":9.379},{"p":"b","k":"2","m":356.85,"y":6.92},
  {"p":"b","k":"3","m":356.85,"y":6.92},{"p":"b","k":"3","m":363.25,"y":8.836},{"p":"b","k":"3","m":372,"y":11.706},{"p":"b","k":"3","m":380.75,"y":14.568},{"p":"b","k":"3","m":389.5,"y":17.032},{"p":"b","k":"3","m":398.25,"y":18.706},{"p":"b","k":"3","m":407,"y":19.3},{"p":"b","k":"3","m":415.75,"y":18.706},{"p":"b","k":"3","m":424.5,"y":17.032},{"p":"b","k":"3","m":433.25,"y":14.568},{"p":"b","k":"3","m":442,"y":11.706},{"p":"b","k":"3","m":450.75,"y":8.836},{"p":"b","k":"3","m":459.5,"y":6.266},{"p":"b","k":"3","m":468.25,"y":4.174},{"p":"b","k":"3","m":477,"y":2.612},{"p":"b","k":"3","m":485.75,"y":1.536},{"p":"b","k":"3","m":494.5,"y":0.848},{"p":"b","k":"3","m":503.25,"y":0.44},{"p":"b","k":"3","m":512,"y":0.214},{"p":"b","k":"3","m":520.75,"y":0.098},{"p":"b","k":"3","m":529.5,"y":0.042},{"p":"b","k":"3","m":538.25,"y":0.017},{"p":"b","k":"3","m":547,"y":0.006},{"p":"b","k":"3","m":1000,"y":0},
  {"p":"c","k":"1","m":0,"y":0},{"p":"c","k":"1","m":118.8,"y":0.025},{"p":"c","k":"1","m":123.75,"y":0.067},{"p":"c","k":"1","m":128.7,"y":0.165},{"p":"c","k":"1","m":133.65,"y":0.383},{"p":"c","k":"1","m":138.6,"y":0.838},{"p":"c","k":"1","m":143.55,"y":1.718},{"p":"c","k":"1","m":148.5,"y":3.313},{"p":"c","k":"1","m":153.45,"y":5.999},{"p":"c","k":"1","m":158.4,"y":10.205},{"p":"c","k":"1","m":163.35,"y":16.307},{"p":"c","k":"1","m":168.3,"y":24.479},{"p":"c","k":"1","m":173.25,"y":34.52},{"p":"c","k":"1","m":178.2,"y":45.732},{"p":"c","k":"1","m":183.15,"y":56.915},{"p":"c","k":"1","m":188.1,"y":66.541},{"p":"c","k":"1","m":193.05,"y":73.08},{"p":"c","k":"1","m":198,"y":75.4},{"p":"c","k":"1","m":202.95,"y":73.08},{"p":"c","k":"1","m":207.9,"y":66.541},{"p":"c","k":"1","m":212.85,"y":56.915},{"p":"c","k":"1","m":217.8,"y":45.732},{"p":"c","k":"1","m":222.75,"y":34.52},{"p":"c","k":"1","m":227.7,"y":24.479},{"p":"c","k":"1","m":232.65,"y":16.307},{"p":"c","k":"1","m":237.6,"y":10.205},{"p":"c","k":"1","m":242.55,"y":5.999},{"p":"c","k":"1","m":243.5,"y":5.38},
  {"p":"c","k":"2","m":243.5,"y":5.38},{"p":"c","k":"2","m":247,"y":7.187},{"p":"c","k":"2","m":253.25,"y":11.484},{"p":"c","k":"2","m":259.5,"y":17.239},{"p":"c","k":"2","m":265.75,"y":24.311},{"p":"c","k":"2","m":272,"y":32.207},{"p":"c","k":"2","m":278.25,"y":40.082},{"p":"c","k":"2","m":284.5,"y":46.861},{"p":"c","k":"2","m":290.75,"y":51.466},{"p":"c","k":"2","m":297,"y":53.1},{"p":"c","k":"2","m":303.25,"y":51.466},{"p":"c","k":"2","m":309.5,"y":46.861},{"p":"c","k":"2","m":315.75,"y":40.082},{"p":"c","k":"2","m":322,"y":32.207},{"p":"c","k":"2","m":328.25,"y":24.311},{"p":"c","k":"2","m":334.5,"y":17.239},{"p":"c","k":"2","m":340.75,"y":11.484},{"p":"c","k":"2","m":347,"y":7.187},{"p":"c","k":"2","m":353.25,"y":4.225},{"p":"c","k":"2","m":355.53,"y":3.43},
  {"p":"c","k":"3","m":355.53,"y":3.43},{"p":"c","k":"3","m":356.25,"y":3.601},{"p":"c","k":"3","m":362.5,"y":5.405},{"p":"c","k":"3","m":368.75,"y":7.623},{"p":"c","k":"3","m":375,"y":10.099},{"p":"c","k":"3","m":381.25,"y":12.568},{"p":"c","k":"3","m":387.5,"y":14.694},{"p":"c","k":"3","m":393.75,"y":16.138},{"p":"c","k":"3","m":400,"y":16.65},{"p":"c","k":"3","m":406.25,"y":16.138},{"p":"c","k":"3","m":412.5,"y":14.694},{"p":"c","k":"3","m":418.75,"y":12.568},{"p":"c","k":"3","m":425,"y":10.099},{"p":"c","k":"3","m":431.25,"y":7.623},{"p":"c","k":"3","m":437.5,"y":5.405},{"p":"c","k":"3","m":443.75,"y":3.601},{"p":"c","k":"3","m":450,"y":2.253},{"p":"c","k":"3","m":456.25,"y":1.325},{"p":"c","k":"3","m":462.5,"y":0.732},{"p":"c","k":"3","m":468.75,"y":0.379},{"p":"c","k":"3","m":475,"y":0.185},{"p":"c","k":"3","m":481.25,"y":0.085},{"p":"c","k":"3","m":487.5,"y":0.036},{"p":"c","k":"3","m":493.75,"y":0.015},{"p":"c","k":"3","m":500,"y":0.006},{"p":"c","k":"3","m":1000,"y":0}
 ],
 "ann": [
  {"p":"a","m":278.5,"y":61.93,"t":"280\nσ 42\n762 counts (56%)"},
  {"p":"a","m":185.4,"y":23.97,"t":"186\nσ 21\n129 counts (10%)"},
  {"p":"a","m":96.9,"y":16.0,"t":"98\nσ 36\n78 counts (6%)"},
  {"p":"a","m":389,"y":23.47,"t":"390\nσ 41\n230 counts (17%)"},
  {"p":"b","m":299.3,"y":87.9,"t":"301\nσ 26\n877 counts (45%)"},
  {"p":"b","m":198.5,"y":42.9,"t":"200\nσ 23\n311 counts (16%)"},
  {"p":"b","m":406,"y":31.5,"t":"407\nσ 35\n325 counts (17%)"},
  {"p":"c","m":198,"y":95.8,"t":"198\nσ 19.8\n720 counts (38%)"},
  {"p":"c","m":297.3,"y":66.55,"t":"297\nσ 25\n637 counts (33%)"},
  {"p":"c","m":400.2,"y":34.6,"t":"400\nσ 25\n203 counts (11%)"}
 ],
 "lab": [
  {"p":"a","k":"big","m":179.2,"y":39.8,"t":"A"},{"p":"a","k":"sub","m":179.2,"y":33.85,"t":"2"},{"p":"a","k":"big","m":89.2,"y":25.7,"t":"A"},{"p":"a","k":"big","m":356.8,"y":47.26,"t":"BA.A"},{"p":"a","k":"big","m":504.6,"y":24.58,"t":"BA.A.B"},{"p":"a","k":"big","m":627.7,"y":58.43,"t":"A"},{"p":"a","k":"sub","m":665.5,"y":58.43,"t":"2"},{"p":"a","k":"big","m":686.5,"y":58.43,"t":"/BA.A ="},{"p":"a","k":"ratio","m":623.3,"y":52.68,"t":"1/20"},{"p":"a","k":"panel","m":-44.6,"y":-10.98,"t":"a"},
  {"p":"b","k":"big","m":179.3,"y":53.3,"t":"A"},{"p":"b","k":"sub","m":179.3,"y":44.99,"t":"2"},{"p":"b","k":"big","m":89.3,"y":33.4,"t":"A"},{"p":"b","k":"big","m":383.6,"y":72.58,"t":"BA.A"},{"p":"b","k":"big","m":534.0,"y":35.2,"t":"BA.A.B"},{"p":"b","k":"big","m":628.1,"y":83.17,"t":"A"},{"p":"b","k":"sub","m":666.0,"y":83.17,"t":"2"},{"p":"b","k":"big","m":686.9,"y":83.17,"t":"/BA.A ="},{"p":"b","k":"ratio","m":623.8,"y":75.0,"t":"1/10"},{"p":"b","k":"panel","m":-46.5,"y":-11.87,"t":"b"},
  {"p":"c","k":"big","m":85.3,"y":81.48,"t":"A"},{"p":"c","k":"sub","m":85.3,"y":72.43,"t":"2"},{"p":"c","k":"big","m":74.5,"y":33.7,"t":"A"},{"p":"c","k":"big","m":369.3,"y":68.88,"t":"BA.A"},{"p":"c","k":"big","m":520.2,"y":35.65,"t":"BA.A.B"},{"p":"c","k":"big","m":623.4,"y":90.64,"t":"A"},{"p":"c","k":"sub","m":661.2,"y":90.64,"t":"2"},{"p":"c","k":"big","m":682.1,"y":90.64,"t":"/BA.A ="},{"p":"c","k":"ratio","m":619.0,"y":81.77,"t":"1/5"},{"p":"c","k":"panel","m":-41.6,"y":-19.5,"t":"c"}
 ],
 "lead": [
  {"p":"a","m":411.9,"y":46.3,"m2":322.7,"y2":38.6},{"p":"a","m":109.1,"y":24.27,"m2":109.1,"y2":10.2},{"p":"a","m":503.4,"y":23.43,"m2":411.9,"y2":15.96},
  {"p":"b","m":441.3,"y":70.95,"m2":351.1,"y2":60.55},{"p":"b","m":109.2,"y":31.14,"m2":109.2,"y2":11.67},{"p":"b","m":530.6,"y":33.85,"m2":441.3,"y2":23.0},
  {"p":"c","m":426.7,"y":67.0,"m2":336.8,"y2":55.67},{"p":"c","m":95.2,"y":31.43,"m2":95.2,"y2":9.76},{"p":"c","m":516.8,"y":34.0,"m2":426.7,"y2":22.56}
 ],
 "frame": [
  {"m":-121.3,"y":66.28,"m2":1052.6,"y2":66.28},{"m":-121.3,"y":66.28,"m2":-121.3,"y2":-193.9}
 ],
 "spine": [
  {"p":"c","m":0,"y":0,"m2":0,"y2":89.4}
 ]
},
"bounds": "flush",
"spacing": 161.7,
"vconcat": [
  {"width": 437, "height": 302,
   "encoding": {
    "x": {"field": "m", "type": "quantitative", "scale": {"domain": [0, 1000], "nice": false}, "axis": {"values": [0, 200, 400, 600, 800, 1000], "format": "d", "title": "Mass [kDa]"}},
    "y": {"field": "y", "type": "quantitative", "scale": {"domain": [0, 57.85], "nice": false}, "axis": {"values": [0, 10, 20, 30, 40, 50], "title": "Counts"}}
   },
   "layer": [
    {"data": {"name": "hist"}, "transform": [{"filter": "datum.p==='a'"}], "mark": {"type": "area", "interpolate": "step-after", "color": "#a9c9ea"}},
    {"data": {"name": "hist"}, "transform": [{"filter": "datum.p==='a'"}], "mark": {"type": "line", "interpolate": "step-after", "color": "#5b9bd5", "strokeWidth": 1.5}},
    {"data": {"name": "comp"}, "transform": [{"filter": "datum.p==='a'"}], "mark": {"type": "line", "interpolate": "monotone", "color": "#65748a", "opacity": 0.8, "strokeWidth": 1.2}, "encoding": {"detail": {"field": "k"}}},
    {"data": {"name": "env"}, "transform": [{"filter": "datum.p==='a'"}], "mark": {"type": "line", "interpolate": "monotone", "color": "#18294a", "strokeWidth": 1.6}, "encoding": {"detail": {"field": "k"}}},
    {"data": {"name": "lead"}, "transform": [{"filter": "datum.p==='a'"}], "mark": {"type": "rule", "color": "#b0b0b0", "strokeWidth": 0.9}, "encoding": {"x2": {"field": "m2"}, "y2": {"field": "y2"}}},
    {"data": {"name": "frame"}, "mark": {"type": "rule", "color": "#555555", "strokeWidth": 1.2}, "encoding": {"x2": {"field": "m2"}, "y2": {"field": "y2"}}},
    {"data": {"name": "ann"}, "transform": [{"filter": "datum.p==='a'"}], "mark": {"type": "text", "font": "DejaVu Sans", "fontSize": 8.8, "lineHeight": 10.2, "lineBreak": "\n", "align": "center", "baseline": "alphabetic", "color": "#333333"}, "encoding": {"text": {"field": "t"}}},
    {"data": {"name": "lab"}, "transform": [{"filter": "datum.p==='a' && datum.k==='big'"}], "mark": {"type": "text", "font": "Liberation Sans", "fontSize": 25, "align": "left", "baseline": "alphabetic", "color": "#000000"}, "encoding": {"text": {"field": "t"}}},
    {"data": {"name": "lab"}, "transform": [{"filter": "datum.p==='a' && datum.k==='sub'"}], "mark": {"type": "text", "font": "Liberation Sans", "fontSize": 15.5, "align": "left", "baseline": "alphabetic", "color": "#000000"}, "encoding": {"text": {"field": "t"}}},
    {"data": {"name": "lab"}, "transform": [{"filter": "datum.p==='a' && datum.k==='ratio'"}], "mark": {"type": "text", "font": "Liberation Sans", "fontSize": 25, "align": "left", "baseline": "alphabetic", "color": "#c1053f"}, "encoding": {"text": {"field": "t"}}},
    {"data": {"name": "lab"}, "transform": [{"filter": "datum.p==='a' && datum.k==='panel'"}], "mark": {"type": "text", "font": "Open Sans", "fontWeight": "bold", "fontSize": 36, "align": "left", "baseline": "alphabetic", "color": "#000000"}, "encoding": {"text": {"field": "t"}}}
   ]
  },
  {"width": 437, "height": 301.3,
   "encoding": {
    "x": {"field": "m", "type": "quantitative", "scale": {"domain": [0, 1000], "nice": false}, "axis": {"values": [0, 200, 400, 600, 800, 1000], "format": "d", "title": "Mass [kDa]"}},
    "y": {"field": "y", "type": "quantitative", "scale": {"domain": [0, 81.8], "nice": false}, "axis": {"values": [0, 10, 20, 30, 40, 50, 60, 70, 80], "title": "Counts"}}
   },
   "layer": [
    {"data": {"name": "hist"}, "transform": [{"filter": "datum.p==='b'"}], "mark": {"type": "area", "interpolate": "step-after", "color": "#a9c9ea"}},
    {"data": {"name": "hist"}, "transform": [{"filter": "datum.p==='b'"}], "mark": {"type": "line", "interpolate": "step-after", "color": "#5b9bd5", "strokeWidth": 1.5}},
    {"data": {"name": "comp"}, "transform": [{"filter": "datum.p==='b'"}], "mark": {"type": "line", "interpolate": "monotone", "color": "#65748a", "opacity": 0.8, "strokeWidth": 1.2}, "encoding": {"detail": {"field": "k"}}},
    {"data": {"name": "env"}, "transform": [{"filter": "datum.p==='b'"}], "mark": {"type": "line", "interpolate": "monotone", "color": "#18294a", "strokeWidth": 1.6}, "encoding": {"detail": {"field": "k"}}},
    {"data": {"name": "lead"}, "transform": [{"filter": "datum.p==='b'"}], "mark": {"type": "rule", "color": "#b0b0b0", "strokeWidth": 0.9}, "encoding": {"x2": {"field": "m2"}, "y2": {"field": "y2"}}},
    {"data": {"name": "ann"}, "transform": [{"filter": "datum.p==='b'"}], "mark": {"type": "text", "font": "DejaVu Sans", "fontSize": 8.8, "lineHeight": 10.2, "lineBreak": "\n", "align": "center", "baseline": "alphabetic", "color": "#333333"}, "encoding": {"text": {"field": "t"}}},
    {"data": {"name": "lab"}, "transform": [{"filter": "datum.p==='b' && datum.k==='big'"}], "mark": {"type": "text", "font": "Liberation Sans", "fontSize": 25, "align": "left", "baseline": "alphabetic", "color": "#000000"}, "encoding": {"text": {"field": "t"}}},
    {"data": {"name": "lab"}, "transform": [{"filter": "datum.p==='b' && datum.k==='sub'"}], "mark": {"type": "text", "font": "Liberation Sans", "fontSize": 15.5, "align": "left", "baseline": "alphabetic", "color": "#000000"}, "encoding": {"text": {"field": "t"}}},
    {"data": {"name": "lab"}, "transform": [{"filter": "datum.p==='b' && datum.k==='ratio'"}], "mark": {"type": "text", "font": "Liberation Sans", "fontSize": 25, "align": "left", "baseline": "alphabetic", "color": "#c1053f"}, "encoding": {"text": {"field": "t"}}},
    {"data": {"name": "lab"}, "transform": [{"filter": "datum.p==='b' && datum.k==='panel'"}], "mark": {"type": "text", "font": "Open Sans", "fontWeight": "bold", "fontSize": 28, "align": "left", "baseline": "alphabetic", "color": "#000000"}, "encoding": {"text": {"field": "t"}}}
   ]
  },
 {"width": 437, "height": 312.6,
  "encoding": {
   "x": {"field": "m", "type": "quantitative", "scale": {"domain": [0, 1000], "nice": false}, "axis": {"values": [0, 200, 400, 600, 800, 1000], "format": "d", "title": "Mass [kDa]"}},
   "y": {"field": "y", "type": "quantitative", "scale": {"domain": [0, 92.45], "nice": false}, "axis": {"values": [0, 10, 20, 30, 40, 50, 60, 70, 80], "domain": false, "title": "Counts"}}
  },
  "layer": [
   {"data": {"name": "hist"}, "transform": [{"filter": "datum.p==='c'"}], "mark": {"type": "area", "interpolate": "step-after", "color": "#a9c9ea"}},
   {"data": {"name": "hist"}, "transform": [{"filter": "datum.p==='c'"}], "mark": {"type": "line", "interpolate": "step-after", "color": "#5b9bd5", "strokeWidth": 1.5}},
   {"data": {"name": "comp"}, "transform": [{"filter": "datum.p==='c'"}], "mark": {"type": "line", "interpolate": "monotone", "color": "#65748a", "opacity": 0.8, "strokeWidth": 1.2}, "encoding": {"detail": {"field": "k"}}},
   {"data": {"name": "env"}, "transform": [{"filter": "datum.p==='c'"}], "mark": {"type": "line", "interpolate": "monotone", "color": "#18294a", "strokeWidth": 1.6}, "encoding": {"detail": {"field": "k"}}},
   {"data": {"name": "lead"}, "transform": [{"filter": "datum.p==='c'"}], "mark": {"type": "rule", "color": "#b0b0b0", "strokeWidth": 0.9}, "encoding": {"x2": {"field": "m2"}, "y2": {"field": "y2"}}},
   {"data": {"name": "spine"}, "mark": {"type": "rule", "color": "#222222", "strokeWidth": 1}, "encoding": {"x2": {"field": "m2"}, "y2": {"field": "y2"}}},
   {"data": {"name": "ann"}, "transform": [{"filter": "datum.p==='c'"}], "mark": {"type": "text", "font": "DejaVu Sans", "fontSize": 8.8, "lineHeight": 10.2, "lineBreak": "\n", "align": "center", "baseline": "alphabetic", "color": "#333333"}, "encoding": {"text": {"field": "t"}}},
   {"data": {"name": "lab"}, "transform": [{"filter": "datum.p==='c' && datum.k==='big'"}], "mark": {"type": "text", "font": "Liberation Sans", "fontSize": 25, "align": "left", "baseline": "alphabetic", "color": "#000000"}, "encoding": {"text": {"field": "t"}}},
   {"data": {"name": "lab"}, "transform": [{"filter": "datum.p==='c' && datum.k==='sub'"}], "mark": {"type": "text", "font": "Liberation Sans", "fontSize": 15.5, "align": "left", "baseline": "alphabetic", "color": "#000000"}, "encoding": {"text": {"field": "t"}}},
   {"data": {"name": "lab"}, "transform": [{"filter": "datum.p==='c' && datum.k==='ratio'"}], "mark": {"type": "text", "font": "Liberation Sans", "fontSize": 25, "align": "left", "baseline": "alphabetic", "color": "#c1053f"}, "encoding": {"text": {"field": "t"}}},
   {"data": {"name": "lab"}, "transform": [{"filter": "datum.p==='c' && datum.k==='panel'"}], "mark": {"type": "text", "font": "Open Sans", "fontWeight": "bold", "fontSize": 33, "align": "left", "baseline": "alphabetic", "color": "#000000"}, "encoding": {"text": {"field": "t"}}}
  ]
 }
]
}
